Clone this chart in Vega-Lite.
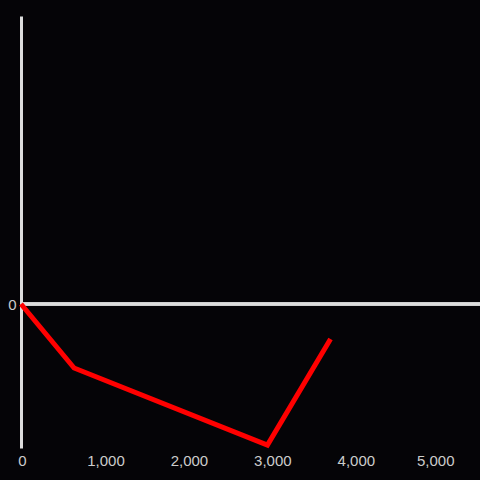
{
  "$schema": "https://vega.github.io/schema/vega-lite/v6.json",
  "width": 459,
  "height": 432,
  "autosize": {"type": "none"},
  "padding": {"left": 21, "top": 16, "right": 0, "bottom": 32},
  "background": "#050407",
  "config": {
    "view": {"stroke": null},
    "axis": {"labelFont": "Liberation Sans", "labelFontSize": 15, "labelColor": "#cccccc", "grid": false, "ticks": false, "title": null, "labelFlush": false}
  },
  "data": {"values": [
    {"x": 0, "y": 0},
    {"x": 636, "y": -66.7},
    {"x": 2953, "y": -146.9},
    {"x": 3709, "y": -36.5}
  ]},
  "layer": [
    {
      "mark": {"type": "rule", "color": "#dddddd", "strokeWidth": 3},
      "encoding": {"y": {"datum": 0, "type": "quantitative"}}
    },
    {
      "mark": {"type": "line", "color": "#ff0000", "strokeWidth": 5, "strokeJoin": "miter", "strokeCap": "butt"},
      "encoding": {
        "x": {"field": "x", "type": "quantitative", "scale": {"domain": [0, 5500], "nice": false, "zero": false},
          "axis": {"values": [0, 1000, 2000, 3000, 4000, 5000], "domain": false, "labelPadding": 5, "format": ",d",
            "labelOffset": {"expr": "datum.value == 5000 ? -3 : (datum.value == 0 ? 1 : 1)"}}},
        "y": {"field": "y", "type": "quantitative", "scale": {"domain": [-150, 300], "nice": false, "zero": false},
          "axis": {"values": [0], "domain": true, "domainColor": "#dddddd", "domainWidth": 3, "labelPadding": 5}}
      }
    }
  ]
}
